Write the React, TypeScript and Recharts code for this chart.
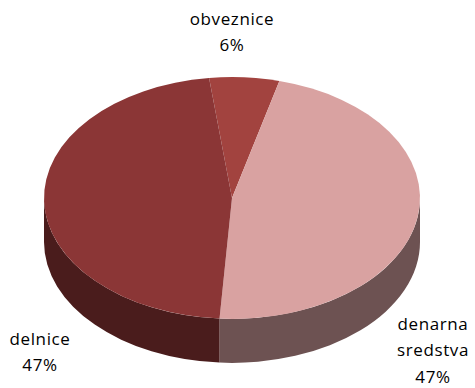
import { PieChart, Pie, Cell } from 'recharts'

const NAMES = ['obveznice', 'denarna sredstva', 'delnice']
const VALUES = [6, 47, 47]
const LABEL_LINES = [['obveznice', '6%'], ['denarna', 'sredstva', '47%'], ['delnice', '47%']]

const TOP_COLORS = ['#a2433f', '#d9a2a1', '#8b3636']
const SIDE_COLORS = ['#5c2421', '#6d5252', '#4a1c1c']

const data = NAMES.map((name, i) => ({ name, value: VALUES[i] }))

const TILT = 0.643
const DEPTH = 44
const RAD = Math.PI / 180
const FONT = '"Open Sans", Lato, sans-serif'

const pt = (cx: number, cy: number, r: number, a: number) => [cx + r * Math.cos(a * RAD), cy - r * TILT * Math.sin(a * RAD)]

function TopSlice(p: any) {
  const { cx, cy, outerRadius: r, startAngle, endAngle, fill } = p
  const [x1, y1] = pt(cx, cy, r, startAngle)
  const [x2, y2] = pt(cx, cy, r, endAngle)
  const large = Math.abs(startAngle - endAngle) > 180 ? 1 : 0
  const sweep = startAngle > endAngle ? 1 : 0
  return <path d={`M${cx},${cy}L${x1},${y1}A${r},${r * TILT} 0 ${large} ${sweep} ${x2},${y2}Z`} fill={fill} stroke="none" />
}

function SideSlice(p: any) {
  const { cx, cy, outerRadius: r, startAngle, endAngle, fill } = p
  const lo = Math.min(startAngle, endAngle)
  const hi = Math.max(startAngle, endAngle)
  const parts: string[] = []
  for (let k = -2; k <= 2; k++) {
    const a = Math.max(lo, -180 + 360 * k)
    const b = Math.min(hi, 360 * k)
    if (b > a) {
      const [xa, ya] = pt(cx, cy, r, a)
      const [xb, yb] = pt(cx, cy, r, b)
      parts.push(`M${xb},${yb}A${r},${r * TILT} 0 0 1 ${xa},${ya}L${xa},${ya + DEPTH}A${r},${r * TILT} 0 0 0 ${xb},${yb + DEPTH}Z`)
    }
  }
  return <path d={parts.join('')} fill={fill} stroke="none" />
}

// label spots relative to the pie centre
const LABEL_POS = [[0, -180], [201, 125], [-192, 140]]

function renderLabel(p: any) {
  const { cx, cy, index } = p
  const [dx, dy] = LABEL_POS[index]
  return (
    <text x={cx + dx} y={cy + dy} textAnchor="middle" fill="#000" fontSize={17} fontFamily={FONT} letterSpacing={0.6}>
      {LABEL_LINES[index].map((t, j) => (
        <tspan key={j} x={cx + dx} y={cy + dy + j * 26.5} dominantBaseline="central">{t}</tspan>
      ))}
    </text>
  )
}

export default function App() {
  return (
    <div style={{ position: 'absolute', left: 0, top: 0, width: 475, height: 388, background: '#fff' }}>
      <PieChart width={475} height={388} margin={{ top: 0, right: 0, bottom: 0, left: 0 }}>
        <Pie data={data} dataKey="value" nameKey="name" cx={232} cy={198} outerRadius={188}
          startAngle={97} endAngle={-263} stroke="none" isAnimationActive={false} shape={SideSlice}>
          {data.map((_, i) => <Cell key={i} fill={SIDE_COLORS[i]} />)}
        </Pie>
        <Pie data={data} dataKey="value" nameKey="name" cx={232} cy={198} outerRadius={188}
          startAngle={97} endAngle={-263} stroke="none" isAnimationActive={false} shape={TopSlice}
          label={renderLabel} labelLine={false}>
          {data.map((_, i) => <Cell key={i} fill={TOP_COLORS[i]} />)}
        </Pie>
      </PieChart>
    </div>
  )
}
